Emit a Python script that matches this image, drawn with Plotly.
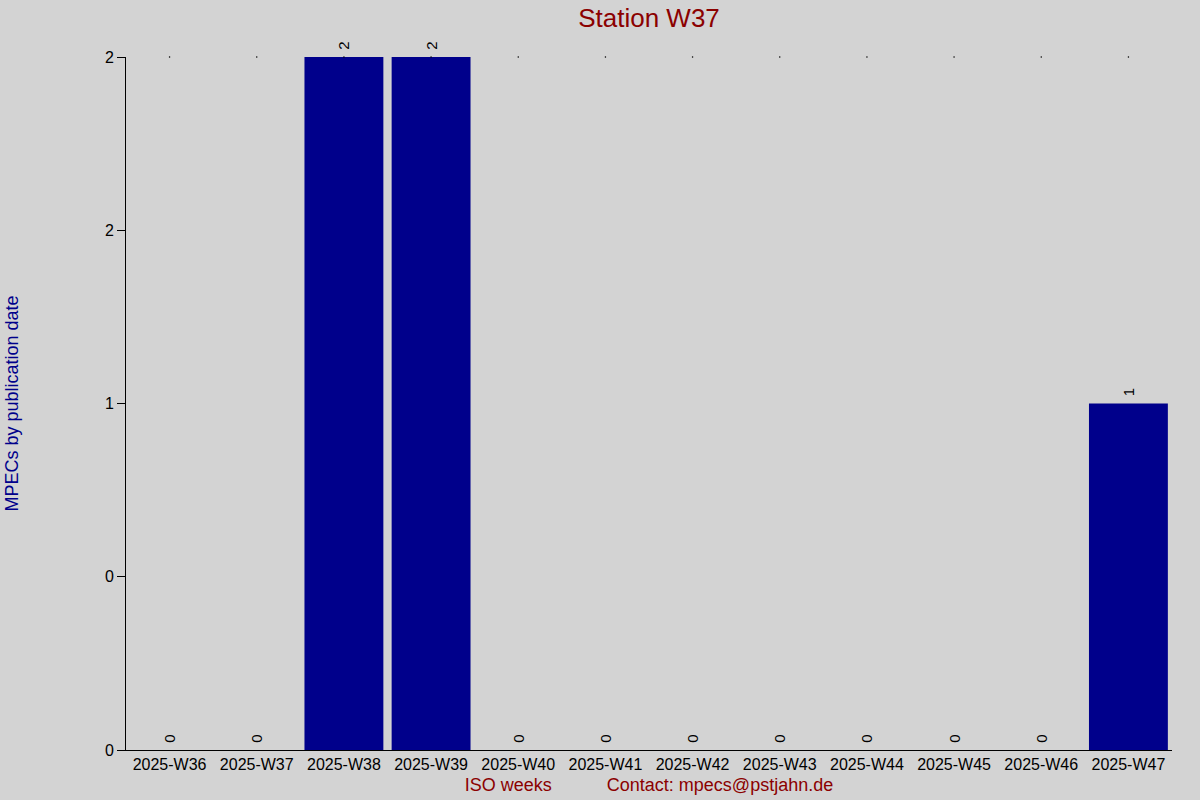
import plotly.graph_objects as go

weeks = ["2025-W36", "2025-W37", "2025-W38", "2025-W39", "2025-W40", "2025-W41",
         "2025-W42", "2025-W43", "2025-W44", "2025-W45", "2025-W46", "2025-W47"]
counts = [0, 0, 2, 2, 0, 0, 0, 0, 0, 0, 0, 1]
ytick_vals = [0, 0.5, 1, 1.5, 2]
ytick_text = ["0", "0", "1", "2", "2"]

title_text = "Station W37"
ytitle = "MPECs by publication date"
xtitle = "ISO weeks" + "\u00a0" * 11 + "Contact: mpecs@pstjahn.de"

FONT = "Liberation Sans, Arial, sans-serif"
fig = go.Figure()
fig.add_trace(go.Bar(
    x=weeks, y=counts, marker=dict(color="#00008b", line=dict(width=0)),
    width=0.905,
    text=["\u00a0" + str(c) for c in counts], textposition="outside", textangle=-90,
    constraintext="none",
    textfont=dict(family=FONT, size=15, color="black"),
    cliponaxis=False, showlegend=False,
))
fig.add_trace(go.Scatter(
    x=weeks, y=[max(counts)] * len(weeks), mode="markers",
    marker=dict(size=1.5, color="black"), showlegend=False, hoverinfo="skip",
    cliponaxis=False,
))
fig.update_layout(
    width=1200, height=800,
    paper_bgcolor="#d3d3d3", plot_bgcolor="#d3d3d3",
    margin=dict(l=126, r=28, t=57, b=50, autoexpand=False),
    font=dict(family=FONT, size=16, color="black"),
    title=dict(text=title_text, x=0.5, xref="paper", xanchor="center", y=0.978, yanchor="middle",
               font=dict(size=26, color="#8b0000", family=FONT)),
    bargap=0.095,
    xaxis=dict(
        range=[-0.5, len(weeks) - 0.5], automargin=False,
        showline=True, linecolor="black", linewidth=1, ticks="", showgrid=False,
        tickfont=dict(size=16, color="black"), ticklabelstandoff=0,
        title=dict(text=xtitle, font=dict(size=18, color="#8b0000"), standoff=6),
    ),
    yaxis=dict(
        range=[0, 2], automargin=False, showline=True, linecolor="black", linewidth=1,
        ticks="outside", ticklen=8, tickcolor="black", showgrid=False, zeroline=False,
        tickvals=ytick_vals, ticktext=ytick_text,
        tickfont=dict(size=16, color="black"),
    ),
    annotations=[dict(
        text=ytitle, xref="paper", yref="paper", x=-(126 - 11) / 1046, y=0.5,
        xanchor="center", yanchor="middle", textangle=-90, showarrow=False,
        font=dict(size=18, color="#00008b", family=FONT),
    )],
)
fig.write_html("out.html", config={"displayModeBar": False},
               post_script="document.body.style.margin='0';")
